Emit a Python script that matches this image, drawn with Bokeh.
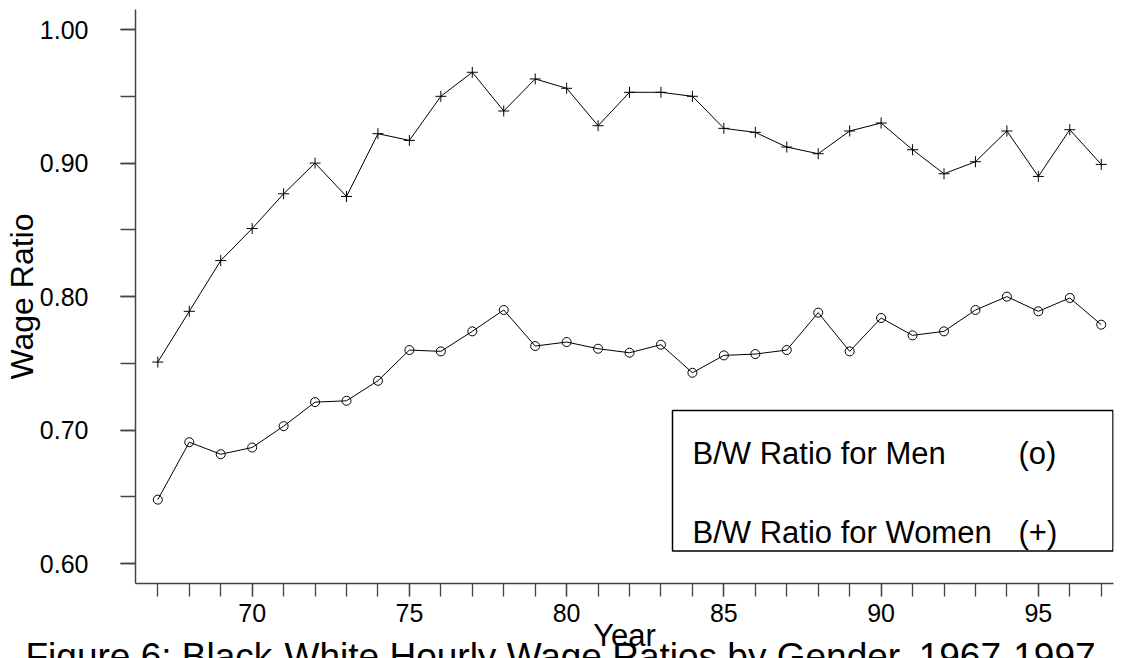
from bokeh.plotting import figure
from bokeh.models import Range1d, FixedTicker, Label, BoxAnnotation, Title
from bokeh.embed import file_html
from bokeh.resources import INLINE

# Black/White hourly wage ratios, 1967-1997 (two-digit years)
years = list(range(67, 98))
men = [0.648, 0.691, 0.682, 0.687, 0.703, 0.721, 0.722, 0.737, 0.760, 0.759,
       0.774, 0.790, 0.763, 0.766, 0.761, 0.758, 0.764, 0.743, 0.756, 0.757,
       0.760, 0.788, 0.759, 0.784, 0.771, 0.774, 0.790, 0.800, 0.789, 0.799,
       0.779]
women = [0.751, 0.789, 0.827, 0.851, 0.877, 0.900, 0.875, 0.922, 0.917, 0.950,
         0.968, 0.939, 0.963, 0.956, 0.928, 0.953, 0.953, 0.950, 0.926, 0.923,
         0.912, 0.907, 0.924, 0.930, 0.910, 0.892, 0.901, 0.924, 0.890, 0.925,
         0.899]

x_ticks = [70, 75, 80, 85, 90, 95]
x_tick_labels = ["70", "75", "80", "85", "90", "95"]
y_ticks = [0.60, 0.70, 0.80, 0.90, 1.00]
y_tick_labels = ["0.60", "0.70", "0.80", "0.90", "1.00"]
y_minor = [0.60, 0.65, 0.70, 0.75, 0.80, 0.85, 0.90, 0.95, 1.00]

legend_men = "B/W Ratio for Men"
legend_women = "B/W Ratio for Women"
title_text = "Figure 6: Black-White Hourly Wage Ratios by Gender, 1967-1997"

FONT = "Liberation Sans"
W, H = 1122, 658
BL, BR, BT, BB = 135, 9, 9, 75
X0, X1 = 66.29, 97.39
Y0, Y1 = 0.5852, 1.0150
FW, FH = W - BL - BR, H - BT - BB


def data_x(px):
    return X0 + (px - BL) * (X1 - X0) / FW


def data_y(py):
    return Y1 - (py - BT) * (Y1 - Y0) / FH


p = figure(width=W, height=H, output_backend="svg", toolbar_location=None,
           x_range=Range1d(X0, X1), y_range=Range1d(Y0, Y1),
           min_border_left=BL, min_border_right=BR,
           min_border_top=BT, min_border_bottom=BB)
p.outline_line_color = None
p.xgrid.visible = False
p.ygrid.visible = False
p.background_fill_color = "white"
p.border_fill_color = "white"

axis_color = "#444444"
for ax in (p.xaxis[0], p.yaxis[0]):
    ax.axis_line_color = axis_color
    ax.axis_line_width = 1.5
    ax.major_tick_line_color = axis_color
    ax.minor_tick_line_color = axis_color
    ax.major_tick_line_width = 1.3
    ax.minor_tick_line_width = 1.3
    ax.major_tick_in = 0
    ax.minor_tick_in = 0
    ax.major_label_text_font = FONT
    ax.major_label_text_font_size = "25px"
    ax.major_label_text_color = "black"
    ax.axis_label_text_font = FONT
    ax.axis_label_text_font_style = "normal"
    ax.axis_label_text_color = "black"

p.xaxis.ticker = FixedTicker(ticks=x_ticks, minor_ticks=years)
p.xaxis.major_label_overrides = dict(zip(x_ticks, x_tick_labels))
p.xaxis.major_tick_out = 13
p.xaxis.minor_tick_out = 13
p.xaxis.major_label_standoff = 7
p.xaxis.axis_label = "Year"
p.xaxis.axis_label_text_font_size = "31px"
p.xaxis.axis_label_standoff = -7

p.yaxis.ticker = FixedTicker(ticks=y_ticks, minor_ticks=y_minor)
p.yaxis.major_label_overrides = dict(zip(y_ticks, y_tick_labels))
p.yaxis.major_tick_out = 15
p.yaxis.minor_tick_out = 15
p.yaxis.major_label_standoff = 32
p.yaxis.axis_label = "Wage Ratio"
p.yaxis.axis_label_text_font_size = "32px"
p.yaxis.axis_label_standoff = -3

# series: men with open circles, women with crosses
p.line(years, men, line_color="black", line_width=1)
p.scatter(years, men, marker="circle", size=9, fill_color=None,
          line_color="black", line_width=1)
p.line(years, women, line_color="black", line_width=1)
p.scatter(years, women, marker="cross", size=11, line_color="black",
          line_width=1)

# key box
p.add_layout(BoxAnnotation(left=data_x(672), right=data_x(1112.5),
                           top=data_y(410), bottom=data_y(550.5),
                           fill_color="white", fill_alpha=1.0,
                           line_color="black", line_alpha=1.0,
                           line_width=1.5))
for txt, px, py in [(legend_men, 692, 453), (legend_women, 692, 531.5),
                    ("(o)", 1018, 453), ("(+)", 1018, 531.5)]:
    p.add_layout(Label(x=data_x(px), y=data_y(py), text=txt,
                       text_font=FONT, text_font_size="31px",
                       text_color="black", text_align="left",
                       text_baseline="alphabetic"))

# caption along the bottom edge, sharing the axis strip
caption = Title(text=title_text, align="left", vertical_align="bottom",
                offset=25 - BL, standoff=-43, text_font=FONT,
                text_font_size="37px", text_font_style="normal",
                text_color="black")
p.add_layout(caption, "below")

open("out.html", "w").write(file_html(p, INLINE))
